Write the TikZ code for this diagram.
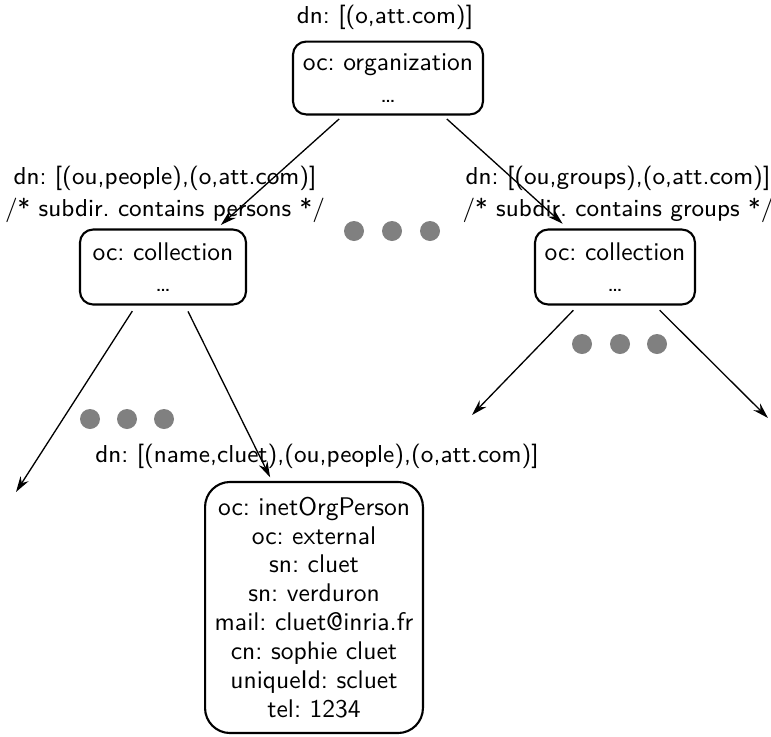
\documentclass[tikz,border=0pt]{standalone}
\usetikzlibrary{arrows.meta}
\begin{document}
\frenchspacing
\begin{tikzpicture}[x=0.38pt,y=-0.38pt,
  font=\sffamily\fontsize{9.7}{11}\selectfont,
  box/.style={draw, line width=0.8pt, rounded corners=5pt, align=center, inner sep=0pt},
  lbl/.style={align=center, inner sep=0pt, font=\sffamily\fontsize{9.3}{12.2}\selectfont},
  arr/.style={-{Stealth[length=6pt,width=3.6pt]}, line width=0.5pt},
  dotc/.style={circle, fill=gray, minimum size=7.6pt, inner sep=0pt}]
\useasboundingbox (0,0) rectangle (771,736);

% labels
\node[lbl] (l0) at (385,17) {dn: [(o,att.com)]};
\node[lbl] (l1) at (165,194) {dn: [(ou,people),(o,att.com)]\\/* subdir. contains persons */};
\node[lbl] (l2) at (618,194) {dn: [(ou,groups),(o,att.com)]\\/* subdir. contains groups */};
\node[lbl] (l3) at (317,456) {dn: [(name,cluet),(ou,people),(o,att.com)]};

% boxes
\node[box, minimum width=72.2pt, minimum height=27.7pt] (org) at (388,78) {oc: organization\\[1pt]\ldots};
\node[box, minimum width=63.1pt, minimum height=28.5pt] (c1) at (163,267) {oc: collection\\[1pt]\ldots};
\node[box, minimum width=60.8pt, minimum height=28.5pt] (c2) at (615,267) {oc: collection\\[1pt]\ldots};
\node[box, rounded corners=9.5pt, minimum width=82.8pt, minimum height=95.4pt] (p) at (314,607.5)
  {oc: inetOrgPerson\\oc: external\\sn: cluet\\sn: verduron\\mail: cluet@inria.fr\\cn: sophie cluet\\uniqueId: scluet\\tel: 1234};

% dots
\node[dotc] (d1) at (354,231) {};
\node[dotc] (d2) at (392,231) {};
\node[dotc] (d3) at (430,231) {};
\node[dotc] (d4) at (582,344) {};
\node[dotc] (d5) at (620,344) {};
\node[dotc] (d6) at (657,344) {};
\node[dotc] (d7) at (90,419) {};
\node[dotc] (d8) at (127,419) {};
\node[dotc] (d9) at (164,419) {};

% free ends
\coordinate (e1) at (16,492);
\coordinate (e2) at (472,415);
\coordinate (e3) at (768,418);

% arrows
\draw[arr, shorten <=2pt, shorten >=2pt] ([xshift=-17.1pt]org.south) -- ([xshift=20.5pt]c1.north);
\draw[arr, shorten <=2pt, shorten >=2.7pt] ([xshift=20.9pt]org.south) -- ([xshift=-17.9pt]c2.north);
\draw[arr, shorten <=2.5pt] ([xshift=-10.3pt]c1.south) -- (e1);
\draw[arr, shorten <=2.5pt, shorten >=1.5pt] ([xshift=8.4pt]c1.south) -- ([xshift=-16pt]p.north);
\draw[arr, shorten <=2.5pt] ([xshift=-14.1pt]c2.south) -- (e2);
\draw[arr, shorten <=2.5pt] ([xshift=15.2pt]c2.south) -- (e3);
\end{tikzpicture}
\end{document}
